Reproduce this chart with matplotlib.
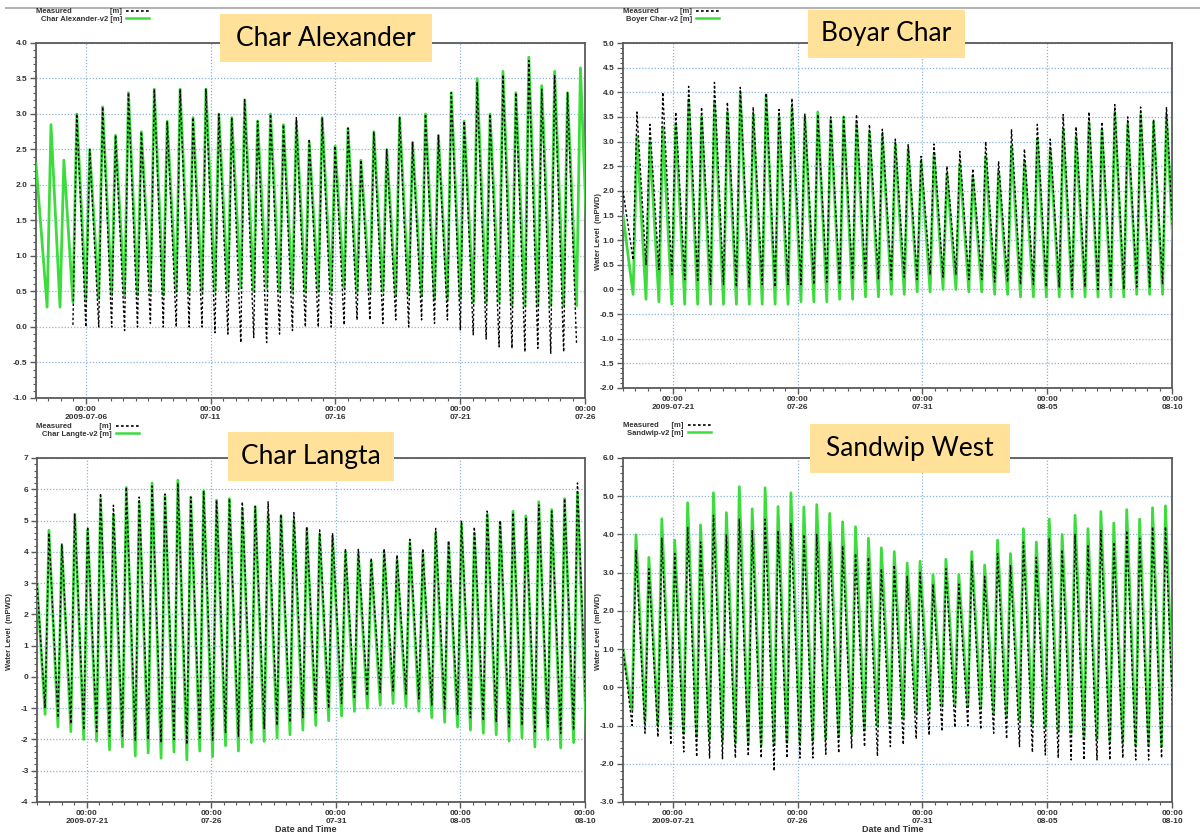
import datetime as dt
import numpy as np
import matplotlib
matplotlib.use("Agg")
import matplotlib.pyplot as plt
import matplotlib.dates as mdates
from matplotlib.lines import Line2D
from matplotlib.patches import Rectangle
from matplotlib.ticker import FixedLocator, FixedFormatter, MultipleLocator

# semidiurnal tide, highs/lows read per cycle
PERIOD_DAYS = 12.42 / 24.0
LOW_LEAD = 0.3  # low water comes this fraction of a period before each high

# ---------------- Char Alexander ----------------
alex_start = dt.datetime(2009, 7, 4)
alex_first_high = 0.6
alex_model_start = 2.3
alex_model_high = [2.85, 2.35, 3.0, 2.5, 3.1, 2.7, 3.3, 2.75, 3.35, 2.9, 3.35, 2.95, 3.35, 3.0,
                   2.95, 3.2, 2.9, 3.0, 2.85, 2.9, 2.6, 2.95, 2.55, 2.8, 2.35, 2.75, 2.5, 2.95,
                   2.6, 3.0, 2.7, 3.3, 2.9, 3.5, 3.0, 3.6, 3.3, 3.8, 3.4, 3.6, 3.3, 3.65]
alex_model_low = [0.28, 0.28, 0.35, 0.4, 0.4, 0.45, 0.45, 0.45, 0.5, 0.45, 0.5, 0.5, 0.5, 0.5,
                  0.5, 0.55, 0.5, 0.55, 0.5, 0.5, 0.5, 0.5, 0.5, 0.55, 0.5, 0.5, 0.5, 0.45,
                  0.45, 0.45, 0.4, 0.4, 0.4, 0.35, 0.35, 0.35, 0.3, 0.3, 0.3, 0.3, 0.3, 0.3, 0.3]
alex_meas_start = None
alex_meas_high = [None, None, 3.0, 2.5, 3.1, 2.7, 3.3, 2.75, 3.35, 2.9, 3.35, 2.95, 3.35, 3.0,
                  2.95, 3.2, 2.9, 3.0, 2.85, 2.95, 2.65, 2.95, 2.55, 2.8, 2.35, 2.75, 2.5, 2.95,
                  2.6, 3.0, 2.7, 3.3, 2.9, 3.45, 3.0, 3.55, 3.3, 3.75, 3.35, 3.55, 3.3, None]
alex_meas_low = [None, None, 0.03, 0.0, 0.0, 0.0, -0.05, 0.0, 0.05, 0.0, 0.0, 0.0, 0.0, -0.08,
                 -0.1, -0.22, -0.15, -0.22, -0.1, -0.05, 0.0, 0.0, 0.0, 0.03, 0.1, 0.1, 0.05,
                 0.1, 0.0, 0.1, 0.05, 0.1, -0.04, -0.11, -0.17, -0.28, -0.3, -0.35, -0.3,
                 -0.37, -0.35, -0.25, None]
alex_ticks = [dt.datetime(2009, 7, 6), dt.datetime(2009, 7, 11), dt.datetime(2009, 7, 16),
              dt.datetime(2009, 7, 21), dt.datetime(2009, 7, 26)]
alex_ticklabels = ["00:00\n2009-07-06", "00:00\n07-11", "00:00\n07-16", "00:00\n07-21", "00:00\n07-26"]

# ---------------- Boyar Char ----------------
boyar_start = dt.datetime(2009, 7, 19)
boyar_first_high = 0.56
boyar_model_start = 1.5
boyar_model_high = [3.1, 3.0, 3.3, 3.35, 3.85, 3.5, 3.8, 3.6, 4.0, 3.55, 3.95, 3.5, 3.7, 3.5,
                    3.6, 3.45, 3.5, 3.4, 3.2, 3.15, 2.95, 2.85, 2.6, 2.75, 2.35, 2.55, 2.3, 2.7,
                    2.4, 2.9, 2.6, 3.05, 2.85, 3.25, 3.1, 3.4, 3.25, 3.6, 3.35, 3.55, 3.4, 3.55]
boyar_model_low = [-0.1, -0.2, -0.25, -0.3, -0.3, -0.3, -0.3, -0.3, -0.3, -0.3, -0.3, -0.3,
                   -0.3, -0.25, -0.25, -0.25, -0.2, -0.2, -0.15, -0.15, -0.1, -0.1, -0.05,
                   -0.05, 0.0, 0.0, -0.05, -0.05, -0.1, -0.1, -0.15, -0.15, -0.15, -0.15,
                   -0.15, -0.15, -0.15, -0.15, -0.15, -0.1, -0.1, -0.1, -0.1]
boyar_meas_start = 2.0
boyar_meas_high = [3.6, 3.35, 4.0, 3.6, 4.12, 3.7, 4.2, 3.8, 4.1, 3.7, 3.98, 3.65, 3.88, 3.56,
                   3.55, 3.5, 3.5, 3.55, 3.35, 3.25, 3.05, 2.95, 2.7, 2.95, 2.5, 2.8, 2.45, 3.0,
                   2.6, 3.25, 2.85, 3.35, 3.05, 3.55, 3.3, 3.6, 3.4, 3.75, 3.5, 3.7, 3.45, 3.7]
boyar_meas_low = [0.6, 0.5, 0.4, 0.3, 0.2, 0.15, 0.1, 0.1, 0.05, 0.05, 0.1, 0.05, 0.1, 0.1,
                  0.1, 0.15, 0.1, 0.2, 0.15, 0.2, 0.2, 0.25, 0.2, 0.3, 0.25, 0.3, 0.2, 0.2,
                  0.15, 0.15, 0.1, 0.1, 0.05, 0.05, 0.0, 0.05, 0.0, 0.05, 0.0, 0.05, 0.05,
                  0.1, 0.1]

# ---------------- Char Langta ----------------
langta_start = dt.datetime(2009, 7, 19)
langta_first_high = 0.48
langta_model_start = 3.0
langta_model_high = [4.69, 4.2, 5.2, 4.7, 5.7, 5.2, 6.06, 5.6, 6.2, 5.8, 6.29, 5.75, 5.95, 5.65,
                     5.7, 5.4, 5.45, 5.2, 5.15, 5.0, 4.75, 4.55, 4.5, 4.0, 3.95, 3.7, 4.0, 3.75,
                     4.3, 4.0, 4.6, 4.3, 4.9, 4.6, 5.2, 4.95, 5.3, 5.15, 5.6, 5.35, 5.7, 5.9]
langta_model_low = [-1.2, -1.6, -1.75, -2.0, -2.05, -2.33, -2.24, -2.53, -2.43, -2.6, -2.4,
                    -2.65, -2.37, -2.55, -2.2, -2.37, -2.1, -2.06, -1.95, -1.85, -1.7, -1.55,
                    -1.4, -1.25, -1.1, -1.0, -0.9, -0.85, -0.95, -1.1, -1.3, -1.45, -1.6, -1.7,
                    -1.8, -1.85, -2.05, -1.95, -2.24, -2.0, -2.27, -2.1, -2.0]
langta_meas_start = 3.0
langta_meas_high = [4.6, 4.25, 5.2, 4.8, 5.87, 5.49, 6.06, 5.75, 6.1, 5.85, 6.2, 5.75, 5.95, 5.65,
                    5.7, 5.6, 5.45, 5.6, 5.2, 5.25, 4.8, 4.7, 4.6, 4.1, 4.1, 3.8, 4.1, 3.9,
                    4.4, 4.1, 4.75, 4.35, 5.0, 4.8, 5.3, 5.0, 5.25, 5.1, 5.5, 5.3, 5.7, 6.2]
langta_meas_low = [-1.0, -1.3, -1.5, -1.7, -1.75, -1.9, -1.9, -2.05, -2.0, -2.1, -2.0, -2.15,
                   -1.95, -2.05, -1.8, -1.9, -1.7, -1.65, -1.55, -1.45, -1.3, -1.15, -1.0,
                   -0.85, -0.7, -0.6, -0.5, -0.45, -0.55, -0.7, -0.9, -1.05, -1.2, -1.3, -1.4,
                   -1.45, -1.6, -1.55, -1.75, -1.6, -1.8, -1.7, -1.6]

# ---------------- Sandwip West ----------------
sandwip_start = dt.datetime(2009, 7, 19)
sandwip_first_high = 0.52
sandwip_model_start = 1.0
sandwip_model_high = [3.99, 3.4, 4.41, 3.85, 4.83, 4.25, 5.09, 4.57, 5.25, 4.67, 5.22, 4.73, 5.09,
                      4.72, 4.78, 4.55, 4.33, 4.2, 3.9, 3.65, 3.55, 3.25, 3.3, 2.95, 3.35, 2.95,
                      3.55, 3.2, 3.85, 3.5, 4.15, 3.8, 4.4, 4.0, 4.5, 4.15, 4.6, 4.3, 4.65, 4.4,
                      4.7, 4.75]
sandwip_model_low = [-0.6, -0.9, -1.0, -1.1, -1.2, -1.3, -1.35, -1.4, -1.45, -1.5, -1.5, -1.5,
                     -1.45, -1.45, -1.4, -1.35, -1.3, -1.2, -1.1, -1.0, -0.9, -0.8, -0.7, -0.6,
                     -0.5, -0.45, -0.5, -0.55, -0.65, -0.75, -0.85, -0.95, -1.05, -1.15, -1.2,
                     -1.3, -1.35, -1.4, -1.45, -1.5, -1.5, -1.55, -1.5]
sandwip_meas_start = 1.0
sandwip_meas_high = [3.6, 3.1, 3.9, 3.5, 4.2, 3.8, 4.5, 4.0, 4.4, 4.1, 4.4, 4.1, 4.3, 4.0, 4.0,
                     3.8, 3.7, 3.5, 3.4, 3.1, 3.2, 2.9, 3.0, 2.7, 3.1, 2.7, 3.3, 2.9, 3.5, 3.2,
                     3.8, 3.4, 3.9, 3.6, 4.0, 3.7, 4.1, 3.8, 4.1, 3.9, 4.2, 4.2]
sandwip_meas_low = [-1.0, -1.2, -1.3, -1.5, -1.69, -1.82, -1.85, -1.87, -1.85, -1.8, -1.85,
                    -2.19, -1.85, -1.85, -1.85, -1.75, -1.72, -1.6, -1.55, -1.8, -1.55, -1.5,
                    -1.35, -1.25, -1.15, -1.05, -1.0, -1.1, -1.2, -1.35, -1.55, -1.7, -1.77,
                    -1.85, -1.9, -1.9, -1.9, -1.9, -1.85, -1.9, -1.9, -1.85, -1.85]

late_ticks = [dt.datetime(2009, 7, 21), dt.datetime(2009, 7, 26), dt.datetime(2009, 7, 31),
              dt.datetime(2009, 8, 5), dt.datetime(2009, 8, 10)]
late_ticklabels = ["00:00\n2009-07-21", "00:00\n07-26", "00:00\n07-31", "00:00\n08-05", "00:00\n08-10"]

W, H = 1200, 835
GREEN = "#3ddc3d"
GRID = "#8db3d8"
SPINE = "#5a5a5a"
BOX = "#ffe199"
TXT = "#333333"
SMALL = "Liberation Sans"


def tide_series(start, first_high, start_value, highs, lows):
    highs = np.array(highs, dtype=float)
    lows = np.array(lows, dtype=float)
    n = len(highs)
    t_hi = first_high + np.arange(n) * PERIOD_DAYS
    t_lo = first_high + (np.arange(n + 1) - LOW_LEAD) * PERIOD_DAYS
    t = np.empty(2 * n + 1)
    y = np.empty(2 * n + 1)
    t[0::2], y[0::2] = t_lo, lows
    t[1::2], y[1::2] = t_hi, highs
    sv = np.nan if start_value is None else start_value
    t = np.concatenate([[0.0], t])
    y = np.concatenate([[sv], y])
    return mdates.date2num(start) + t, y


def px_rect(l, r, top, bottom):
    return [l / W, 1 - bottom / H, (r - l) / W, (bottom - top) / H]


fig = plt.figure(figsize=(W / 100, H / 100), dpi=100)

panels = [
    dict(rect=(36, 585, 43, 398), start=alex_start, first=alex_first_high,
         model=(alex_model_start, alex_model_high, alex_model_low),
         meas=(alex_meas_start, alex_meas_high, alex_meas_low),
         ylim=(-1.0, 4.0), ystep=0.5, yminor=0.1, yfmt="{:.1f}",
         ticks=alex_ticks, ticklabels=alex_ticklabels,
         name="Char Alexander-v2 [m]", meas_name="Measured                  [m]",
         title="Char Alexander", box=(220, 432, 14, 62), legend_xy=(36, 8),
         ylabel=None, xlabel=False),
    dict(rect=(623, 1172, 43, 388), start=boyar_start, first=boyar_first_high,
         model=(boyar_model_start, boyar_model_high, boyar_model_low),
         meas=(boyar_meas_start, boyar_meas_high, boyar_meas_low),
         ylim=(-2.0, 5.0), ystep=0.5, yminor=0.1, yfmt="{:.1f}",
         ticks=late_ticks, ticklabels=late_ticklabels,
         name="Boyer Char-v2 [m]", meas_name="Measured          [m]",
         title="Boyar Char", box=(808, 965, 10, 58), legend_xy=(623, 8),
         ylabel=(598, 232), xlabel=False),
    dict(rect=(37, 585, 458, 802), start=langta_start, first=langta_first_high,
         model=(langta_model_start, langta_model_high, langta_model_low),
         meas=(langta_meas_start, langta_meas_high, langta_meas_low),
         ylim=(-4, 7), ystep=1, yminor=0.2, yfmt="{:.0f}",
         ticks=late_ticks, ticklabels=late_ticklabels,
         name="Char Langte-v2 [m]", meas_name="Measured             [m]",
         title="Char Langta", box=(228, 394, 432, 481), legend_xy=(36, 423),
         ylabel=(10, 632), xlabel=True),
    dict(rect=(623, 1172, 458, 802), start=sandwip_start, first=sandwip_first_high,
         model=(sandwip_model_start, sandwip_model_high, sandwip_model_low),
         meas=(sandwip_meas_start, sandwip_meas_high, sandwip_meas_low),
         ylim=(-3.0, 6.0), ystep=1.0, yminor=0.2, yfmt="{:.1f}",
         ticks=late_ticks, ticklabels=late_ticklabels,
         name="Sandwip-v2 [m]", meas_name="Measured      [m]",
         title="Sandwip West", box=(810, 1010, 424, 473), legend_xy=(623, 422),
         ylabel=(598, 632), xlabel=True),
]

for p in panels:
    ax = fig.add_axes(px_rect(*p["rect"]))
    x0 = mdates.date2num(p["start"])
    ax.set_xlim(x0, x0 + 22)
    ax.set_ylim(*p["ylim"])

    xm, ym = tide_series(p["start"], p["first"], *p["model"])
    xs, ys = tide_series(p["start"], p["first"], *p["meas"])
    ax.plot(xm, ym, color=GREEN, lw=2.0, zorder=3)
    ax.plot(xs, ys, color="black", lw=1.0, ls=(0, (1.8, 1.6)), zorder=4)

    ticks = mdates.date2num(p["ticks"])
    ax.xaxis.set_major_locator(FixedLocator(ticks))
    ax.xaxis.set_major_formatter(FixedFormatter(p["ticklabels"]))
    ax.xaxis.set_minor_locator(MultipleLocator(0.5))
    yt = np.arange(p["ylim"][0], p["ylim"][1] + 1e-9, p["ystep"])
    ax.set_yticks(yt)
    ax.set_yticklabels([p["yfmt"].format(v) for v in yt])
    ax.yaxis.set_minor_locator(MultipleLocator(p["yminor"]))

    ax.grid(True, which="major", ls=(0, (1, 1.5)), color=GRID, lw=0.9, zorder=1)
    for s in ax.spines.values():
        s.set_color(SPINE)
        s.set_linewidth(1.3)
    ax.tick_params(which="major", direction="out", length=4, width=1, color=SPINE,
                   labelsize=6, labelcolor=TXT, pad=2)
    ax.tick_params(which="minor", direction="out", length=2.5, width=0.8, color=SPINE)
    for lab in ax.get_xticklabels() + ax.get_yticklabels():
        lab.set_fontweight("bold")
        lab.set_family(SMALL)
    for lab in ax.get_xticklabels():
        lab.set_linespacing(1.15)

    lx, ly = p["legend_xy"]
    handles = [Line2D([], [], color="black", lw=1.2, ls=(0, (1.6, 1.4))),
               Line2D([], [], color=GREEN, lw=1.8)]
    fig.legend(handles, [p["meas_name"], p["name"]], loc="upper left",
               bbox_to_anchor=(lx / W, 1 - ly / H), bbox_transform=fig.transFigure,
               frameon=False, markerfirst=False, handlelength=3.0, handletextpad=0.6,
               labelspacing=0.05, borderpad=0, borderaxespad=0,
               prop=dict(size=5.5, weight="bold", family=SMALL), labelcolor=TXT)

    bl, br, bt, bb = p["box"]
    fig.add_artist(Rectangle((bl / W, 1 - bb / H), (br - bl) / W, (bb - bt) / H,
                             transform=fig.transFigure, facecolor=BOX, edgecolor="none",
                             zorder=10))
    fig.text((bl + br) / 2 / W, 1 - (bt + bb) / 2 / H, p["title"], ha="center",
             va="center", fontsize=19, family="Lato", color="black", zorder=11)

    if p["ylabel"]:
        fig.text(p["ylabel"][0] / W, 1 - p["ylabel"][1] / H, "Water Level  (mPWD)",
                 rotation=90, ha="center", va="center", fontsize=5.5,
                 fontweight="bold", family=SMALL, color=TXT)
    if p["xlabel"]:
        l, r = p["rect"][0], p["rect"][1]
        fig.text((l + r) / 2 / W - 0.004, 1 - 829 / H, "Date and Time", ha="center",
                 va="center", fontsize=6.5, fontweight="bold", family=SMALL, color=TXT)

fig.add_artist(Line2D([6 / W, 1.0], [1 - 8 / H, 1 - 8 / H], color="#b4b4b4", lw=1.5,
                      transform=fig.transFigure))

fig.savefig("out.png", dpi=100, facecolor="white")
